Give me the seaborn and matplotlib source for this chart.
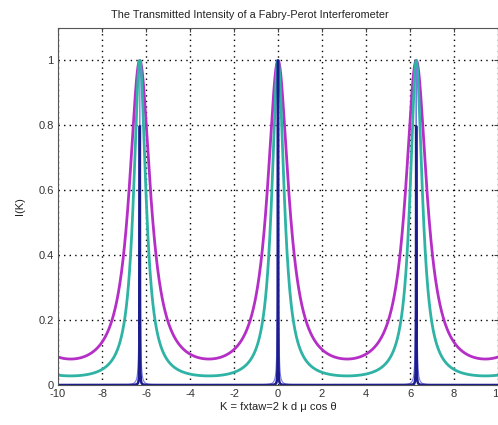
import numpy as np
import pandas as pd
import matplotlib
matplotlib.use("Agg")
import matplotlib.pyplot as plt
import seaborn as sns

# minimum transmitted intensity of each curve
curve_names = ['low finesse', 'mid finesse', 'high finesse', 'very high finesse']
curve_min = [0.08, 0.028, 0.0001, 0.00001]
curve_colors = ['#b52fc6', '#2fb3a5', '#7b7be6', '#1c1c8e']
curve_widths = [2.0, 2.0, 0.8, 1.8]

x_ticks = [-10, -8, -6, -4, -2, 0, 2, 4, 6, 8, 10]
y_ticks = [0, 0.2, 0.4, 0.6, 0.8, 1]

K = np.round(np.arange(-10, 10.0001, 0.01), 4)

frames = []
for name, m in zip(curve_names, curve_min):
    F = 1.0 / m - 1.0
    frames.append(pd.DataFrame({'K': K, 'I': 1.0 / (1.0 + F * np.sin(K / 2) ** 2), 'curve': name}))
data = pd.concat(frames, ignore_index=True)

sns.set_style('white')
plt.rcParams['font.family'] = ['Liberation Sans', 'DejaVu Sans']

fig = plt.figure(figsize=(4.98, 4.25), dpi=100)
ax = fig.add_axes([58 / 498, 40 / 425, 440 / 498, 357 / 425])

for name, c, lw in zip(curve_names, curve_colors, curve_widths):
    sns.lineplot(data=data[data['curve'] == name], x='K', y='I', color=c,
                 linewidth=lw, ax=ax, estimator=None, sort=False)

ax.set_xlim(-10, 10)
ax.set_ylim(0, 1.1)
ax.set_xticks(x_ticks)
ax.set_xticklabels([str(t) for t in x_ticks])
ax.set_yticks(y_ticks)
ax.set_yticklabels([str(t) for t in y_ticks])
ax.grid(True, linestyle=(0, (1, 3)), color='black', linewidth=1.0)
ax.tick_params(direction='in', length=3, labelsize=8, top=True, right=True,
               color='#444444', labelcolor='#333333', pad=3)
for s in ax.spines.values():
    s.set_color('#555555')
    s.set_linewidth(0.8)

ax.set_title('The Transmitted Intensity of a Fabry-Perot Interferometer', fontsize=7.8,
             color='#222222', pad=7, x=(250 - 58) / 440)
ax.set_xlabel('K = fxtaw=2 k d \u03bc cos \u03b8', fontsize=8, color='#222222', labelpad=2)
ax.set_ylabel('I(K)', fontsize=8, color='#222222', labelpad=10)

fig.savefig('out.png', dpi=100)
